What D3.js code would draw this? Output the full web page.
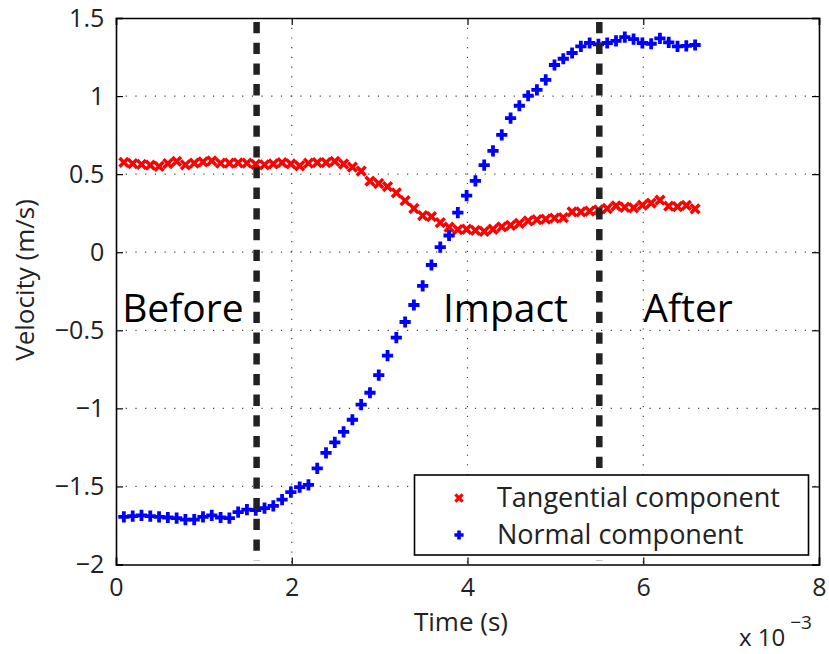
<!DOCTYPE html>
<html>
<head>
<meta charset="utf-8">
<script src="https://cdn.jsdelivr.net/npm/d3@7"></script>
<style>
html,body{margin:0;padding:0;background:#fff;}
svg{display:block;font-family:"Open Sans","DejaVu Sans",sans-serif;}
</style>
</head>
<body>
<svg id="chart" width="829" height="654"></svg>
<script>
// time in ms (axis shows x 10^-3 s)
const times = [0.09,0.19,0.29,0.39,0.49,0.59,0.69,0.79,0.89,0.99,
  1.09,1.19,1.29,1.39,1.49,1.59,1.69,1.79,1.89,1.99,
  2.09,2.19,2.29,2.39,2.49,2.59,2.69,2.79,2.89,2.99,
  3.09,3.19,3.29,3.39,3.49,3.59,3.69,3.79,3.89,3.99,
  4.09,4.19,4.29,4.39,4.49,4.59,4.69,4.79,4.89,4.99,
  5.09,5.19,5.29,5.39,5.49,5.59,5.69,5.79,5.89,5.99,
  6.09,6.19,6.29,6.39,6.49,6.59];
const tangential = [0.575,0.567,0.562,0.558,0.550,0.568,0.582,0.560,0.570,0.578,
  0.585,0.570,0.570,0.572,0.570,0.563,0.560,0.566,0.574,0.566,
  0.553,0.570,0.574,0.574,0.582,0.565,0.545,0.520,0.455,0.440,
  0.420,0.380,0.330,0.280,0.235,0.228,0.190,0.160,0.145,0.147,
  0.140,0.133,0.147,0.162,0.172,0.185,0.200,0.208,0.212,0.218,
  0.222,0.258,0.258,0.263,0.271,0.280,0.297,0.288,0.284,0.301,
  0.314,0.333,0.295,0.292,0.300,0.278];
const normal = [-1.695,-1.690,-1.686,-1.690,-1.695,-1.699,-1.703,-1.712,-1.712,-1.695,
  -1.686,-1.699,-1.703,-1.665,-1.648,-1.652,-1.639,-1.624,-1.585,-1.536,
  -1.504,-1.490,-1.385,-1.285,-1.218,-1.150,-1.073,-0.976,-0.900,-0.787,
  -0.662,-0.547,-0.447,-0.338,-0.216,-0.082,0.032,0.107,0.254,0.363,
  0.457,0.558,0.649,0.752,0.859,0.938,1.002,1.040,1.104,1.199,
  1.239,1.276,1.318,1.340,1.331,1.340,1.353,1.378,1.365,1.340,
  1.335,1.369,1.344,1.318,1.322,1.327];
const xTicks = [0,2,4,6,8];
const yTicks = [-2,-1.5,-1,-0.5,0,0.5,1,1.5];
const phaseBounds = [1.6,5.5];
const phaseLabels = [{t:0.07,label:"Before"},{t:3.72,label:"Impact"},{t:6.0,label:"After"}];
const seriesNames = ["Tangential component","Normal component"];

const svg = d3.select("#chart");
const L=116, R=819, T=18, B=564.5;
const x = d3.scaleLinear().domain([0,8]).range([L,R]);
const y = d3.scaleLinear().domain([-2,1.5]).range([B,T]);

// grid
const grid = svg.append("g").attr("stroke","#444").attr("stroke-width",1.2).attr("stroke-dasharray","1.2,8.5");
grid.selectAll("line.v").data(xTicks.slice(1,-1)).join("line")
  .attr("x1",d=>x(d)).attr("x2",d=>x(d)).attr("y1",T).attr("y2",B);
grid.selectAll("line.h").data(yTicks.slice(1,-1)).join("line")
  .attr("y1",d=>y(d)).attr("y2",d=>y(d)).attr("x1",L).attr("x2",R);

// axes with inward ticks
const fmt = d => (d<0 ? "\u2212"+Math.abs(d) : String(d));
const ax = [
  {a:d3.axisBottom(x).tickValues(xTicks).tickSize(-7).tickFormat(d=>d), tr:`translate(0,${B})`},
  {a:d3.axisTop(x).tickValues(xTicks).tickSize(-7).tickFormat(""), tr:`translate(0,${T})`},
  {a:d3.axisLeft(y).tickValues(yTicks).tickSize(-7).tickFormat(fmt), tr:`translate(${L},0)`},
  {a:d3.axisRight(y).tickValues(yTicks).tickSize(-7).tickFormat(""), tr:`translate(${R},0)`}
];
ax.forEach((o,i)=>{
  const g = svg.append("g").attr("transform",o.tr).call(o.a);
  g.select(".domain").attr("stroke","#000").attr("stroke-width",1.6);
  g.selectAll(".tick line").attr("stroke","#000").attr("stroke-width",1.2);
  g.selectAll("text").attr("font-size",25).attr("fill","#222").attr("font-family",'"Open Sans",sans-serif');
  if(i===0) g.selectAll("text").attr("dy","1.12em");
  if(i===2) g.selectAll("text").attr("dx","-0.35em");
});

// markers
const xPath = s => `M${-s},${-s}L${s},${s}M${-s},${s}L${s},${-s}`;
const pPath = s => `M${-s},0L${s},0M0,${-s}L0,${s}`;
svg.append("g").selectAll("path").data(times).join("path")
  .attr("transform",(d,i)=>`translate(${x(d)},${y(tangential[i])})`)
  .attr("d",xPath(4.4)).attr("stroke","#ff0000").attr("stroke-width",3.5).attr("fill","none");
svg.append("g").selectAll("path").data(times).join("path")
  .attr("transform",(d,i)=>`translate(${x(d)},${y(normal[i])})`)
  .attr("d",pPath(5.6)).attr("stroke","#0000ff").attr("stroke-width",3.8).attr("fill","none");

// phase boundaries
svg.append("g").selectAll("line").data(phaseBounds).join("line")
  .attr("x1",d=>x(d)).attr("x2",d=>x(d)).attr("y1",y(1.5)+4).attr("y2",y(-2)-4)
  .attr("stroke","#222").attr("stroke-width",6.5).attr("stroke-dasharray","11.3,9.4");

// phase labels
svg.append("g").selectAll("text").data(phaseLabels).join("text")
  .attr("x",d=>x(d.t)).attr("y",322).text(d=>d.label)
  .attr("font-size",39).attr("fill","#000").attr("font-family",'"Open Sans",sans-serif');

// axis titles
svg.append("text").attr("x",461).attr("y",631).attr("text-anchor","middle")
  .attr("font-size",26).attr("fill","#222").text("Time (s)");
svg.append("text").attr("transform","translate(34,280) rotate(-90)").attr("text-anchor","middle")
  .attr("font-size",26).attr("fill","#222").text("Velocity (m/s)");
const ex = svg.append("text").attr("x",739).attr("y",646).attr("font-size",24).attr("fill","#222");
ex.append("tspan").text("x 10");
ex.append("tspan").attr("dx",5).attr("dy",-17).attr("font-size",19).text("\u22123");

// legend
const lg = svg.append("g");
lg.append("rect").attr("x",414.5).attr("y",475).attr("width",394).attr("height",80)
  .attr("fill","#fff").attr("stroke","#000").attr("stroke-width",1.6);
const items = [{n:seriesNames[0],p:xPath(3.6),c:"#ff0000",w:3.2},{n:seriesNames[1],p:pPath(4.6),c:"#0000ff",w:3.6}];
items.forEach((it,i)=>{
  const cy = 498 + i*37;
  lg.append("path").attr("transform",`translate(459,${cy})`).attr("d",it.p)
    .attr("stroke",it.c).attr("stroke-width",it.w).attr("fill","none");
  lg.append("text").attr("x",497).attr("y",cy+9).attr("font-size",27).attr("fill","#222").text(it.n);
});
</script>
</body>
</html>
